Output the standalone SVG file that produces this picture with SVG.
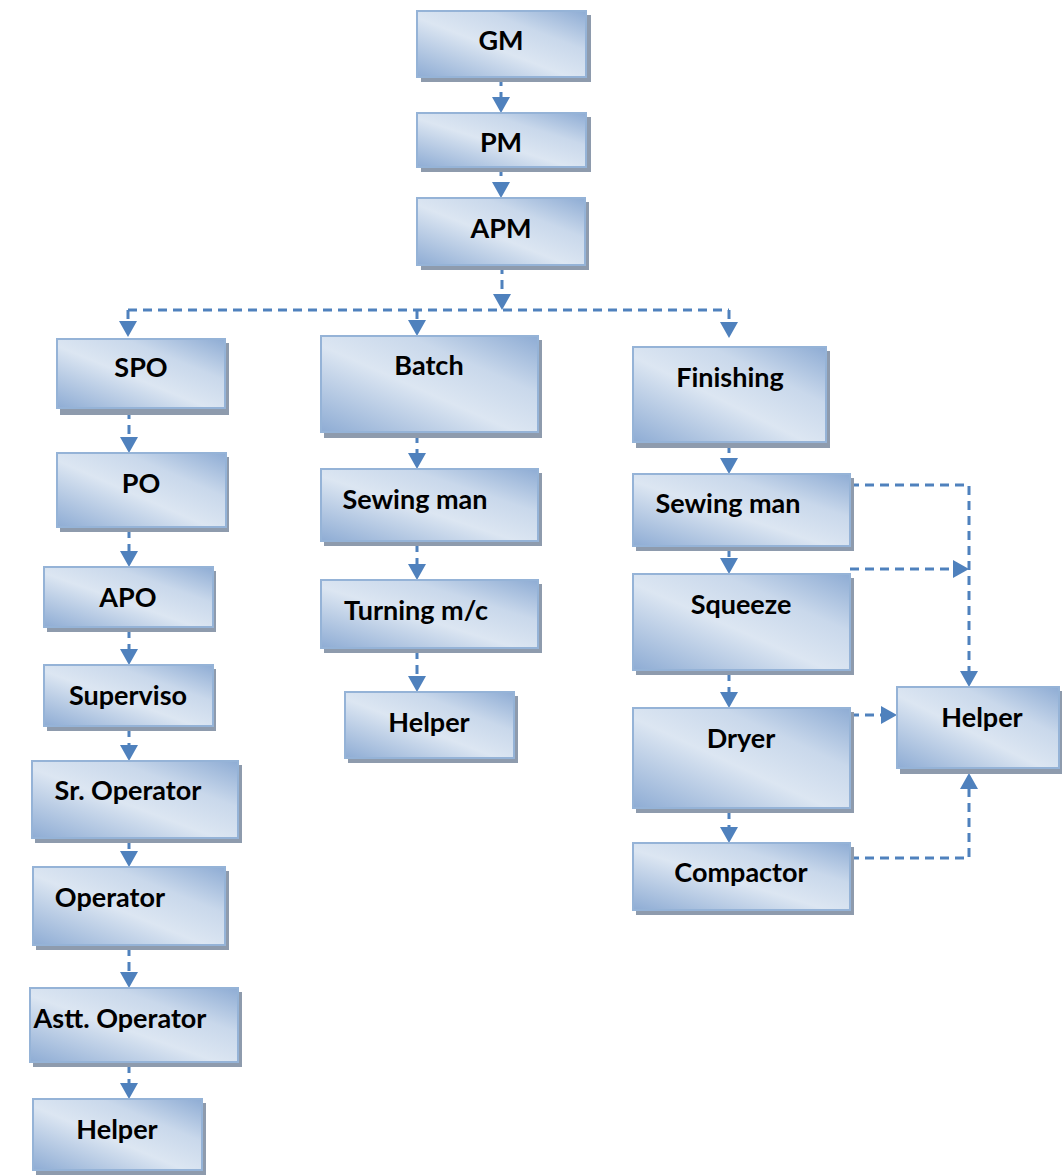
<svg xmlns="http://www.w3.org/2000/svg" width="1062" height="1175" viewBox="0 0 1062 1175">
<defs>
<linearGradient id="g" x1="0" y1="1" x2="1" y2="0">
<stop offset="0" stop-color="#8eacd4"/>
<stop offset="0.45" stop-color="#dce6f2"/>
<stop offset="0.7" stop-color="#c9d8eb"/>
<stop offset="1" stop-color="#8eacd4"/>
</linearGradient>
<marker id="ah" markerUnits="userSpaceOnUse" markerWidth="16" markerHeight="18" refX="0" refY="9" orient="auto" viewBox="0 0 16 18">
<path d="M0,0 L16,9 L0,18 z" fill="#4f81bd"/>
</marker>
<style>
.sh{fill:#8e9bad}
.box{fill:url(#g);stroke:#95b3d7;stroke-width:2}
.lbl{font-family:Lato,"Open Sans","Liberation Sans",sans-serif;font-weight:bold;font-size:27px;fill:#000;text-anchor:middle}
.c{stroke:#4f81bd;stroke-width:3;stroke-dasharray:9 6;fill:none}
.a{marker-end:url(#ah)}
</style>
</defs>

<g id="connectors">
<path class="c a" d="M501,77 V97"/>
<path class="c a" d="M501,167 V182"/>
<path class="c a" d="M502,265 V294"/>
<path class="c" d="M128,310 H729"/>
<path class="c a" d="M128,310 V321"/>
<path class="c a" d="M417,310 V320"/>
<path class="c a" d="M729,310 V322"/>
<path class="c a" d="M129,410 V437"/>
<path class="c a" d="M129,529 V551"/>
<path class="c a" d="M129,629 V649"/>
<path class="c a" d="M129,728 V745"/>
<path class="c a" d="M129,840 V851"/>
<path class="c a" d="M129,947 V972"/>
<path class="c a" d="M129,1064 V1083"/>
<path class="c a" d="M417,434 V453"/>
<path class="c a" d="M417,543 V564"/>
<path class="c a" d="M417,650 V676"/>
<path class="c a" d="M729,444 V458"/>
<path class="c a" d="M729,548 V558"/>
<path class="c a" d="M729,672 V692"/>
<path class="c a" d="M729,810 V827"/>
<path class="c a" d="M850,485 H969 V671"/>
<path class="c a" d="M850,569 H953"/>
<path class="c a" d="M850,715 H881"/>
<path class="c a" d="M850,858 H969 V789"/>
</g>

<g id="gm"><rect class="sh" x="421" y="15" width="170" height="67"/><rect class="box" x="417" y="11" width="169" height="66"/><text class="lbl" x="501" y="50">GM</text></g>
<g id="pm"><rect class="sh" x="421" y="117" width="170" height="55"/><rect class="box" x="417" y="113" width="169" height="54"/><text class="lbl" x="501" y="152">PM</text></g>
<g id="apm"><rect class="sh" x="421" y="202" width="168" height="68"/><rect class="box" x="417" y="198" width="168" height="67"/><text class="lbl" x="501" y="238">APM</text></g>

<g id="spo"><rect class="sh" x="60" y="343" width="169" height="72"/><rect class="box" x="57" y="339" width="168" height="69"/><text class="lbl" x="141" y="377">SPO</text></g>
<g id="po"><rect class="sh" x="60" y="457" width="169" height="75"/><rect class="box" x="57" y="453" width="169" height="74"/><text class="lbl" x="141" y="493">PO</text></g>
<g id="apo"><rect class="sh" x="47" y="571" width="169" height="61"/><rect class="box" x="44" y="567" width="169" height="60"/><text class="lbl" x="128" y="607">APO</text></g>
<g id="superviso"><rect class="sh" x="47" y="669" width="169" height="62"/><rect class="box" x="44" y="665" width="169" height="61"/><text class="lbl" x="128" y="705">Superviso</text></g>
<g id="sr-operator"><rect class="sh" x="35" y="765" width="207" height="78"/><rect class="box" x="32" y="761" width="206" height="77"/><text class="lbl" x="128" y="800">Sr. Operator</text></g>
<g id="operator"><rect class="sh" x="36" y="871" width="193" height="79"/><rect class="box" x="33" y="867" width="192" height="78"/><text class="lbl" x="110" y="907">Operator</text></g>
<g id="astt-operator"><rect class="sh" x="33" y="992" width="209" height="75"/><rect class="box" x="30" y="988" width="208" height="74"/><text class="lbl" x="120" y="1028">Astt. Operator</text></g>
<g id="helper-1"><rect class="sh" x="36" y="1103" width="170" height="72"/><rect class="box" x="33" y="1099" width="169" height="71"/><text class="lbl" x="117" y="1139">Helper</text></g>

<g id="batch"><rect class="sh" x="324" y="340" width="218" height="98"/><rect class="box" x="321" y="336" width="217" height="96"/><text class="lbl" x="429" y="375">Batch</text></g>
<g id="sewing-man-1"><rect class="sh" x="324" y="473" width="218" height="73"/><rect class="box" x="321" y="469" width="217" height="72"/><text class="lbl" x="415" y="509">Sewing man</text></g>
<g id="turning"><rect class="sh" x="324" y="584" width="218" height="69"/><rect class="box" x="321" y="580" width="217" height="68"/><text class="lbl" x="416" y="620">Turning m/c</text></g>
<g id="helper-2"><rect class="sh" x="348" y="696" width="170" height="67"/><rect class="box" x="345" y="692" width="169" height="66"/><text class="lbl" x="429" y="732">Helper</text></g>

<g id="finishing"><rect class="sh" x="636" y="351" width="194" height="97"/><rect class="box" x="633" y="347" width="193" height="95"/><text class="lbl" x="730" y="387">Finishing</text></g>
<g id="sewing-man-2"><rect class="sh" x="636" y="478" width="218" height="73"/><rect class="box" x="633" y="474" width="217" height="72"/><text class="lbl" x="728" y="513">Sewing man</text></g>
<g id="squeeze"><rect class="sh" x="636" y="578" width="218" height="97"/><rect class="box" x="633" y="574" width="217" height="96"/><text class="lbl" x="741" y="614">Squeeze</text></g>
<g id="dryer"><rect class="sh" x="636" y="712" width="218" height="101"/><rect class="box" x="633" y="708" width="217" height="100"/><text class="lbl" x="741" y="748">Dryer</text></g>
<g id="compactor"><rect class="sh" x="636" y="847" width="218" height="68"/><rect class="box" x="633" y="843" width="217" height="67"/><text class="lbl" x="741" y="882">Compactor</text></g>
<g id="helper-3"><rect class="sh" x="900" y="691" width="162" height="83"/><rect class="box" x="897" y="687" width="162" height="81"/><text class="lbl" x="982" y="727">Helper</text></g>
</svg>
